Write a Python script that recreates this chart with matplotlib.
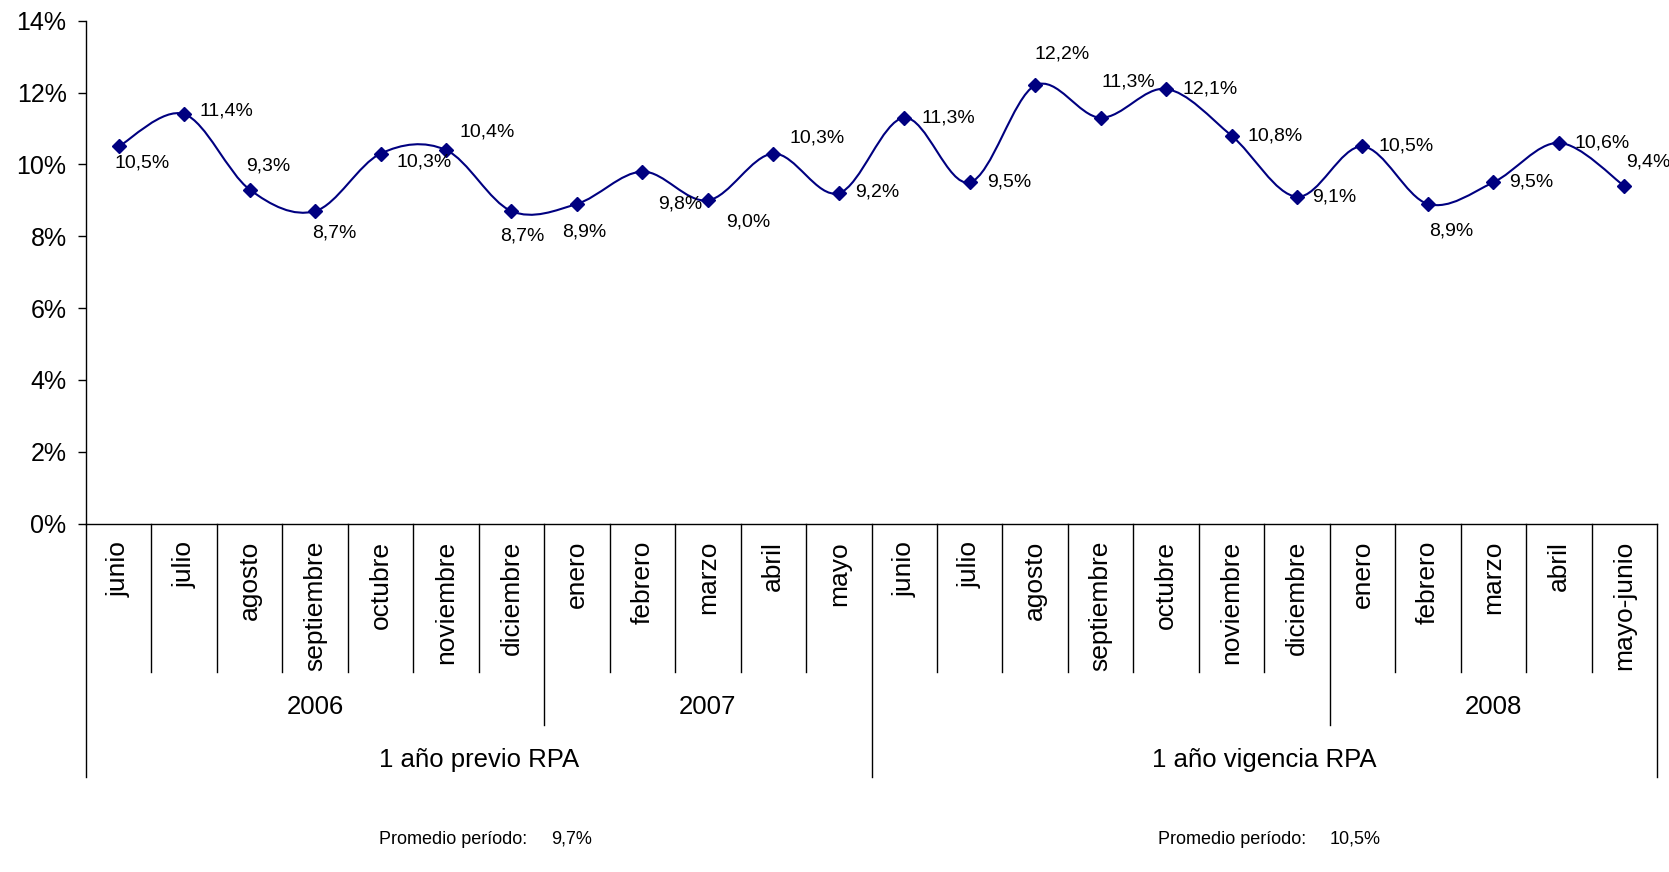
import numpy as np
import matplotlib
matplotlib.use("Agg")
import matplotlib.pyplot as plt
from matplotlib.path import Path
from matplotlib.patches import PathPatch
import matplotlib.transforms as mtransforms

plt.rcParams['font.family'] = ['Liberation Sans', 'DejaVu Sans']

# datos
months = ["junio", "julio", "agosto", "septiembre", "octubre", "noviembre", "diciembre",
          "enero", "febrero", "marzo", "abril", "mayo",
          "junio", "julio", "agosto", "septiembre", "octubre", "noviembre", "diciembre",
          "enero", "febrero", "marzo", "abril", "mayo-junio"]
values = [10.5, 11.4, 9.3, 8.7, 10.3, 10.4, 8.7, 8.9, 9.8, 9.0, 10.3, 9.2,
          11.3, 9.5, 12.2, 11.3, 12.1, 10.8, 9.1, 10.5, 8.9, 9.5, 10.6, 9.4]
years = ["2006", "2007", "", "2008"]
year_counts = [7, 5, 7, 5]
periods = ["1 año previo RPA", "1 año vigencia RPA"]
period_counts = [12, 12]
averages = ["9,7%", "10,5%"]

# desplazamiento de etiquetas (pixeles: izquierda del texto, centro vertical)
label_offsets = [(-4, 17), (15, -3), (-4, -24), (-3, 22), (16, 8), (13, -18),
                 (-11, 25), (-15, 28), (16, 32), (18, 22), (16, -16), (16, -1),
                 (17, 0), (17, 0), (-1, -31), (1, -36), (16, 0), (16, 0),
                 (15, 0), (16, 0), (1, 27), (16, 0), (16, 0), (2, -24)]

W, H = 1669, 872
fig = plt.figure(figsize=(W / 100, H / 100), dpi=100)
ax_left, ax_right, ax_top, ax_bot = 86, 1657, 20.7, 523.7
ax = fig.add_axes([ax_left / W, (H - ax_bot) / H, (ax_right - ax_left) / W, (ax_bot - ax_top) / H])

n = len(values)
x = np.arange(n)
navy = "#000080"

# linea suavizada (bezier tipo Excel)
pts = np.column_stack([x, values]).astype(float)
verts = [tuple(pts[0])]
codes = [Path.MOVETO]
for i in range(n - 1):
    p0 = pts[max(i - 1, 0)]
    p1 = pts[i]
    p2 = pts[i + 1]
    p3 = pts[min(i + 2, n - 1)]
    c1 = p1 + (p2 - p0) / 6
    c2 = p2 - (p3 - p1) / 6
    verts += [tuple(c1), tuple(c2), tuple(p2)]
    codes += [Path.CURVE4] * 3
ax.add_patch(PathPatch(Path(verts, codes), facecolor="none", edgecolor=navy, lw=1.5))
ax.plot(x, values, linestyle="none", marker="D", ms=7, color=navy, zorder=3)

for i, v in enumerate(values):
    dx, dy = label_offsets[i]
    ax.annotate(f"{v:.1f}%".replace(".", ","), (i, v), xytext=(dx, -dy),
                textcoords="offset pixels", ha="left", va="center", fontsize=14)

ax.set_xlim(-0.5, n - 0.5)
ax.set_ylim(0, 14)
ax.set_yticks(range(0, 15, 2))
ax.set_yticklabels([f"{t}%" for t in range(0, 15, 2)], fontsize=18)
ax.set_xticks([])
ax.tick_params(axis="y", direction="out", length=6, width=1, pad=8)
for s in ["top", "right"]:
    ax.spines[s].set_visible(False)
for s in ["left", "bottom"]:
    ax.spines[s].set_linewidth(1)

# ejes de categorias en varios niveles
trans = mtransforms.blended_transform_factory(ax.transData, ax.transAxes)
def ypx(p):
    return (ax_bot - p) / (ax_bot - ax_top)

y_month, y_year, y_period = ypx(672), ypx(725), ypx(777)
year_edges = list(np.cumsum(year_counts)[:-1])
period_edges = list(np.cumsum(period_counts)[:-1])
for k in range(0, n + 1):
    if k in (0, n) or k in period_edges:
        yb = y_period
    elif k in year_edges:
        yb = y_year
    else:
        yb = y_month
    ax.plot([k - 0.5, k - 0.5], [0, yb], color="black", lw=1, transform=trans, clip_on=False)

for i, m in enumerate(months):
    ax.text(i, ypx(541), m, rotation=90, ha="center", va="top", fontsize=19, transform=trans)

start = 0
for yr, c in zip(years, year_counts):
    ax.text(start + c / 2 - 0.5, ypx(707), yr, ha="center", va="center", fontsize=18.5, transform=trans)
    start += c

start = 0
for p, c in zip(periods, period_counts):
    ax.text(start + c / 2 - 0.5, ypx(760), p, ha="center", va="center", fontsize=18.5, transform=trans)
    start += c

# promedios
for (lx, vx), avg in zip([(379, 551), (1158, 1330)], averages):
    fig.text(lx / W, 1 - 839 / H, "Promedio período:", ha="left", va="center", fontsize=13)
    fig.text(vx / W, 1 - 839 / H, avg, ha="left", va="center", fontsize=13)

fig.savefig("out.png", dpi=100)
